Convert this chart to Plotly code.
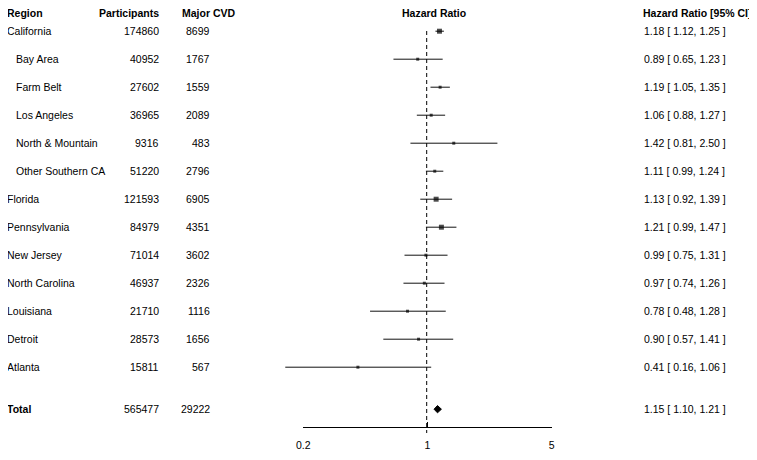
import math
import plotly.graph_objects as go

# ---------------- data ----------------
regions = ["California", "Bay Area", "Farm Belt", "Los Angeles", "North & Mountain",
           "Other Southern CA", "Florida", "Pennsylvania", "New Jersey",
           "North Carolina", "Louisiana", "Detroit", "Atlanta"]
is_subregion = [False, True, True, True, True, True, False, False, False,
                False, False, False, False]
participants = [174860, 40952, 27602, 36965, 9316, 51220, 121593, 84979, 71014,
                46937, 21710, 28573, 15811]
major_cvd = [8699, 1767, 1559, 2089, 483, 2796, 6905, 4351, 3602, 2326, 1116, 1656, 567]
hr = [1.18, 0.89, 1.19, 1.06, 1.42, 1.11, 1.13, 1.21, 0.99, 0.97, 0.78, 0.90, 0.41]
ci_low = [1.12, 0.65, 1.05, 0.88, 0.81, 0.99, 0.92, 0.99, 0.75, 0.74, 0.48, 0.57, 0.16]
ci_high = [1.25, 1.23, 1.35, 1.27, 2.50, 1.24, 1.39, 1.47, 1.31, 1.26, 1.28, 1.41, 1.06]

total_label = "Total"
total_participants = 565477
total_cvd = 29222
total_hr = 1.15
total_low = 1.10
total_high = 1.21

tick_vals = [0.2, 1, 5]
tick_labels = ["0.2", "1", "5"]

# ---------------- layout helpers ----------------
# the page body adds an 8px margin, so the figure is offset by 8px
OFF = 8
W, H = 757 - OFF, 460 - OFF
FONT = "Liberation Sans, Arial, Helvetica, sans-serif"
FS = 10.5
n = len(regions)
row_y = [n - i for i in range(n)]          # California at top
total_y = row_y[-1] - 1.5                  # one and a half rows below last

ROW_PX = 28.0
TOP_ROW_PX = 31.2 - OFF
y_top = n + TOP_ROW_PX / ROW_PX
y_bot = n - (H - TOP_ROW_PX) / ROW_PX
header_y = n + (TOP_ROW_PX - (12.5 - OFF)) / ROW_PX


def ypx(p):
    """convert a screen pixel row into row units"""
    return n - ((p - OFF) - TOP_ROW_PX) / ROW_PX


# x (log) range so that 1 sits at 426.7px and 0.2..5 spans 303..552px
X_ONE = 426.7 - OFF
X_LO, X_HI = 303.3 - OFF, 551.7 - OFF
ppd = (X_HI - X_LO) / (math.log10(5) - math.log10(0.2))
x_left = -X_ONE / ppd
x_right = (W - X_ONE) / ppd


def px(v):
    return (v - OFF) / W


def fmt_ci(e, l, u):
    return f"{e:.2f} [ {l:.2f}, {u:.2f} ]"


fig = go.Figure()

# reference line at HR = 1
fig.add_trace(go.Scatter(
    x=[1, 1], y=[ypx(31), ypx(433)],
    mode="lines", line=dict(color="black", width=1, dash="4px,3px"),
    hoverinfo="skip", showlegend=False))

# confidence intervals
cx, cy = [], []
for l, u, y in zip(ci_low, ci_high, row_y):
    cx += [l, u, None]
    cy += [y, y, None]
fig.add_trace(go.Scatter(x=cx, y=cy, mode="lines",
                         line=dict(color="#111111", width=1),
                         hoverinfo="skip", showlegend=False))

# point estimates (size by number of events)
sizes = [5 if c > 4000 else 3 for c in major_cvd]
fig.add_trace(go.Scatter(x=hr, y=row_y, mode="markers",
                         marker=dict(symbol="square", size=sizes, color="black",
                                     line=dict(width=0)),
                         showlegend=False))

# summary diamond
dh = 0.13
fig.add_trace(go.Scatter(
    x=[total_low, total_hr, total_high, total_hr, total_low],
    y=[total_y, total_y + dh, total_y, total_y - dh, total_y],
    mode="lines", fill="toself", fillcolor="black",
    line=dict(color="black", width=1), showlegend=False, hoverinfo="skip"))

# invisible trace on the visible bottom axis
fig.add_trace(go.Scatter(x=[tick_vals[0], tick_vals[-1]], y=[total_y, total_y],
                         xaxis="x2", mode="markers", marker=dict(opacity=0),
                         showlegend=False, hoverinfo="skip"))

ann = []
TXT_DX = -2  # annotation box padding compensation


def add_text(text, xpix, y, anchor, bold=False):
    dx = TXT_DX if anchor == "left" else (-TXT_DX if anchor == "right" else 0)
    ann.append(dict(text=f"<b>{text}</b>" if bold else text,
                    x=px(xpix + dx), xref="paper", y=y, yref="y",
                    xanchor=anchor, yanchor="middle", showarrow=False,
                    font=dict(family=FONT, size=FS, color="black")))


# headers
add_text("Region", 7, header_y, "left", True)
add_text("Participants", 158.5, header_y, "right", True)
add_text("Major CVD", 235.5, header_y, "right", True)
add_text("Hazard Ratio", 434, header_y, "center", True)
add_text("Hazard Ratio [95% CI]", 751.5, header_y, "right", True)

for i in range(n):
    y = row_y[i]
    add_text(regions[i], 16 if is_subregion[i] else 7, y, "left")
    add_text(str(participants[i]), 158.5, y, "right")
    add_text(str(major_cvd[i]), 209.5, y, "right")
    add_text(fmt_ci(hr[i], ci_low[i], ci_high[i]), 643.5, y, "left")

add_text(total_label, 7, total_y, "left", True)
add_text(str(total_participants), 158.5, total_y, "right")
add_text(str(total_cvd), 209.5, total_y, "right")
add_text(fmt_ci(total_hr, total_low, total_high), 643.5, total_y, "left")

fig.update_layout(
    width=W, height=H,
    margin=dict(l=0, r=0, t=0, b=0, autoexpand=False),
    paper_bgcolor="white", plot_bgcolor="rgba(0,0,0,0)",
    font=dict(family=FONT, size=FS, color="black"),
    xaxis=dict(type="log", range=[x_left, x_right], visible=False, fixedrange=True),
    xaxis2=dict(type="log", range=[math.log10(tick_vals[0]), math.log10(tick_vals[-1])],
                domain=[X_LO / W, X_HI / W], anchor="free",
                position=(H - (426.7 - OFF)) / H,
                showline=True, linecolor="black", linewidth=1,
                ticks="inside", ticklen=5, tickcolor="black", tickwidth=1,
                tickvals=tick_vals, ticktext=tick_labels, ticklabelstandoff=9,
                tickfont=dict(family=FONT, size=FS, color="black"),
                showgrid=False, zeroline=False, fixedrange=True),
    yaxis=dict(range=[y_bot, y_top], visible=False, fixedrange=True),
    annotations=ann,
    showlegend=False,
)

fig.write_html("out.html")
